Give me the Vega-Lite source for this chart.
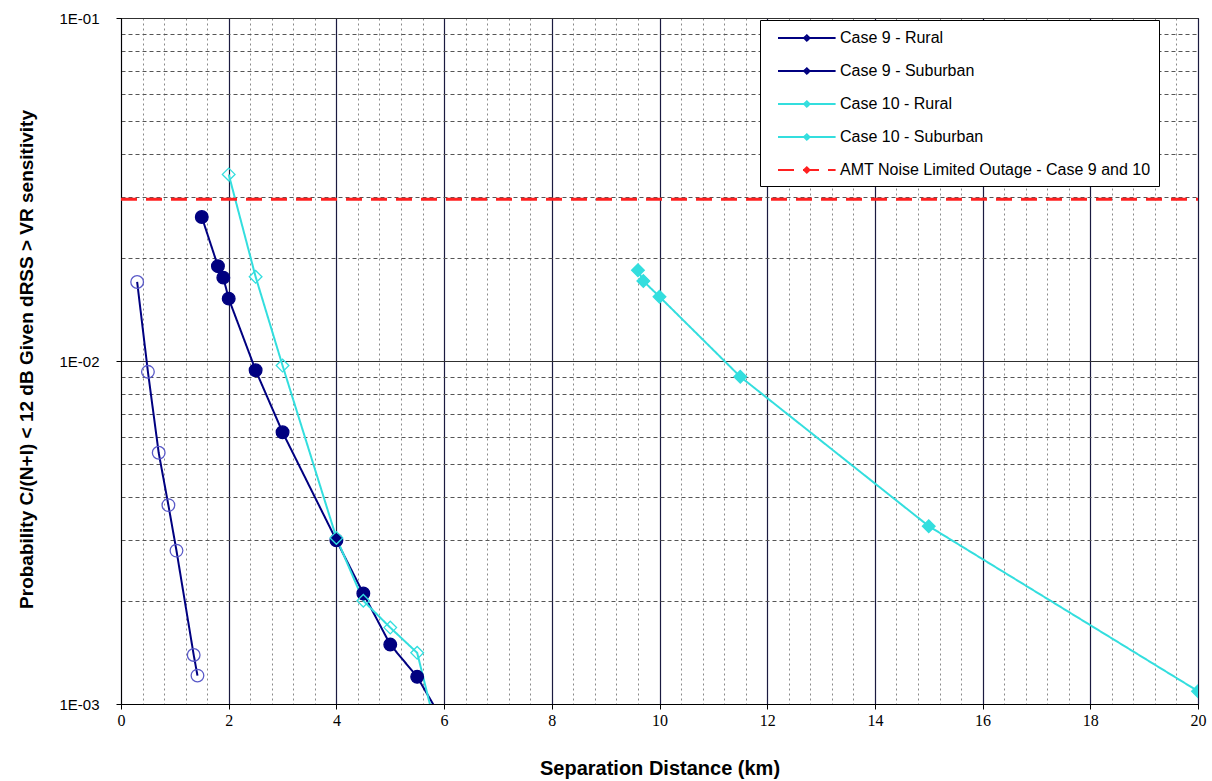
{
  "$schema": "https://vega.github.io/schema/vega-lite/v6.json",
  "width": 1077,
  "height": 686,
  "autosize": {"type": "none"},
  "padding": {"left": 121, "top": 18, "right": 14, "bottom": 77},
  "background": "white",
  "config": {
    "view": {"stroke": "#000000", "strokeWidth": 1},
    "font": "Liberation Sans"
  },
  "data": {
    "values": [
      {"series": "Case 9 - Rural", "x": 1.5, "y": 0.0263},
      {"series": "Case 9 - Rural", "x": 1.8, "y": 0.0189},
      {"series": "Case 9 - Rural", "x": 1.9, "y": 0.0175},
      {"series": "Case 9 - Rural", "x": 2.0, "y": 0.0152},
      {"series": "Case 9 - Rural", "x": 2.5, "y": 0.0094},
      {"series": "Case 9 - Rural", "x": 3.0, "y": 0.0062},
      {"series": "Case 9 - Rural", "x": 4.0, "y": 0.0030},
      {"series": "Case 9 - Rural", "x": 4.5, "y": 0.0021},
      {"series": "Case 9 - Rural", "x": 5.0, "y": 0.00149},
      {"series": "Case 9 - Rural", "x": 5.5, "y": 0.0012},
      {"series": "Case 9 - Rural", "x": 6.0, "y": 0.00088},
      {"series": "Case 9 - Suburban", "x": 0.3, "y": 0.0170},
      {"series": "Case 9 - Suburban", "x": 0.5, "y": 0.0093},
      {"series": "Case 9 - Suburban", "x": 0.7, "y": 0.0054},
      {"series": "Case 9 - Suburban", "x": 0.88, "y": 0.0038},
      {"series": "Case 9 - Suburban", "x": 1.03, "y": 0.0028},
      {"series": "Case 9 - Suburban", "x": 1.35, "y": 0.00139},
      {"series": "Case 9 - Suburban", "x": 1.42, "y": 0.00121},
      {"series": "Case 10 - Rural", "x": 9.6, "y": 0.0184},
      {"series": "Case 10 - Rural", "x": 9.7, "y": 0.0171},
      {"series": "Case 10 - Rural", "x": 10.0, "y": 0.0154},
      {"series": "Case 10 - Rural", "x": 11.5, "y": 0.0090},
      {"series": "Case 10 - Rural", "x": 15.0, "y": 0.0033},
      {"series": "Case 10 - Rural", "x": 20.0, "y": 0.00109},
      {"series": "Case 10 - Suburban", "x": 2.0, "y": 0.035},
      {"series": "Case 10 - Suburban", "x": 2.5, "y": 0.0176},
      {"series": "Case 10 - Suburban", "x": 3.0, "y": 0.0097},
      {"series": "Case 10 - Suburban", "x": 4.0, "y": 0.00305},
      {"series": "Case 10 - Suburban", "x": 4.5, "y": 0.0020},
      {"series": "Case 10 - Suburban", "x": 5.0, "y": 0.00167},
      {"series": "Case 10 - Suburban", "x": 5.5, "y": 0.00141},
      {"series": "Case 10 - Suburban", "x": 6.0, "y": 0.00068},
      {"series": "AMT Noise Limited Outage - Case 9 and 10", "x": 0, "y": 0.0296},
      {"series": "AMT Noise Limited Outage - Case 9 and 10", "x": 20, "y": 0.0296}
    ]
  },
  "encoding": {
    "x": {
      "field": "x", "type": "quantitative",
      "scale": {"domain": [0, 20], "nice": false, "zero": false},
      "axis": {
        "title": "Separation Distance (km)",
        "values": [0,0.4,0.8,1.2,1.6,2,2.4,2.8,3.2,3.6,4,4.4,4.8,5.2,5.6,6,6.4,6.8,7.2,7.6,8,8.4,8.8,9.2,9.6,10,10.4,10.8,11.2,11.6,12,12.4,12.8,13.2,13.6,14,14.4,14.8,15.2,15.6,16,16.4,16.8,17.2,17.6,18,18.4,18.8,19.2,19.6,20],
        "labelExpr": "abs(datum.value/2 - round(datum.value/2)) < 0.01 ? format(datum.value, 'd') : ''",
        "labelFont": "Liberation Sans Narrow",
        "labelFontSize": 16,
        "labelColor": "#000000",
        "labelPadding": 3,
        "labelFlush": false,
        "labelOverlap": false,
        "domainColor": "#000000",
        "tickColor": "#000000",
        "tickSize": {"condition": {"test": "abs(datum.value/2 - round(datum.value/2)) < 0.01", "value": 5}, "value": 0},
        "grid": true,
        "gridColor": {"condition": {"test": "abs(datum.value/2 - round(datum.value/2)) < 0.01", "value": "#1a1a40"}, "value": "#8a8a8a"},
        "gridDash": {"condition": {"test": "abs(datum.value/2 - round(datum.value/2)) < 0.01", "value": []}, "value": [2, 3]},
        "gridWidth": {"condition": {"test": "abs(datum.value/2 - round(datum.value/2)) < 0.01", "value": 1.2}, "value": 1},
        "titleFont": "Liberation Sans",
        "titleFontSize": 20,
        "titleFontWeight": "bold",
        "titleColor": "#000000",
        "titleY": 64,
        "titleBaseline": "middle"
      }
    },
    "y": {
      "field": "y", "type": "quantitative",
      "scale": {"type": "log", "domain": [0.001, 0.1], "nice": false},
      "axis": {
        "title": "Probability C/(N+I) < 12 dB Given dRSS > VR sensitivity",
        "values": [0.001,0.002,0.003,0.004,0.005,0.006,0.007,0.008,0.009,0.01,0.02,0.03,0.04,0.05,0.06,0.07,0.08,0.09,0.1],
        "labelExpr": "datum.value == 0.1 ? '1E-01' : datum.value == 0.01 ? '1E-02' : datum.value == 0.001 ? '1E-03' : ''",
        "labelFont": "Liberation Sans",
        "labelFontSize": 15,
        "labelColor": "#000000",
        "labelPadding": 17,
        "labelFlush": false,
        "labelOverlap": false,
        "domainColor": "#000000",
        "tickColor": "#000000",
        "tickSize": {"condition": {"test": "datum.value == 0.1 || datum.value == 0.01 || datum.value == 0.001", "value": 5}, "value": 0},
        "grid": true,
        "gridColor": {"condition": {"test": "datum.value == 0.1 || datum.value == 0.01 || datum.value == 0.001", "value": "#303030"}, "value": "#555555"},
        "gridDash": {"condition": {"test": "datum.value == 0.1 || datum.value == 0.01 || datum.value == 0.001", "value": []}, "value": [4, 3]},
        "gridWidth": {"condition": {"test": "datum.value == 0.1 || datum.value == 0.01 || datum.value == 0.001", "value": 1.2}, "value": 1},
        "titleFont": "Liberation Sans",
        "titleFontSize": 19,
        "titleFontWeight": "bold",
        "titleColor": "#000000",
        "titleX": -95,
        "titleY": 341,
        "titleAlign": "center",
        "titleBaseline": "middle",
        "titleAngle": -90
      }
    }
  },
  "layer": [
    {
      "transform": [{"filter": "datum.series != 'AMT Noise Limited Outage - Case 9 and 10'"}],
      "mark": {"type": "line", "strokeWidth": 2, "clip": true},
      "encoding": {
        "color": {
          "field": "series", "type": "nominal",
          "scale": {
            "domain": ["Case 9 - Rural", "Case 9 - Suburban", "Case 10 - Rural", "Case 10 - Suburban", "AMT Noise Limited Outage - Case 9 and 10"],
            "range": ["#000080", "#000080", "#33dede", "#33dede", "#ff2020"]
          },
          "legend": {
            "title": null,
            "orient": "none",
            "legendX": 639,
            "legendY": 2,
            "fillColor": "#ffffff",
            "strokeColor": "#000000",
            "padding": 8,
            "symbolType": "M0,0H6.4M2.9,0L3.2,-0.3L3.5,0L3.2,0.3Z",
            "symbolSize": 324,
            "symbolStrokeWidth": 2,
            "labelOffset": 52,
            "labelFont": "Liberation Sans",
            "labelFontSize": 16,
            "labelColor": "#000000",
            "labelLimit": 460,
            "labelExpr": "datum.label + '\u00a0\u00a0\u00a0\u00a0\u00a0\u00a0\u00a0\u00a0'",
            "rowPadding": 15
          }
        },
        "strokeDash": {
          "field": "series", "type": "nominal",
          "scale": {
            "domain": ["Case 9 - Rural", "Case 9 - Suburban", "Case 10 - Rural", "Case 10 - Suburban", "AMT Noise Limited Outage - Case 9 and 10"],
            "range": [[1, 0], [1, 0], [1, 0], [1, 0], [16, 9]]
          },
          "legend": {
            "title": null,
            "orient": "none",
            "legendX": 639,
            "legendY": 2,
            "fillColor": "#ffffff",
            "strokeColor": "#000000",
            "padding": 8,
            "symbolType": "M0,0H6.4M2.9,0L3.2,-0.3L3.5,0L3.2,0.3Z",
            "symbolSize": 324,
            "symbolStrokeWidth": 2,
            "labelOffset": 52,
            "labelFont": "Liberation Sans",
            "labelFontSize": 16,
            "labelColor": "#000000",
            "labelLimit": 460,
            "labelExpr": "datum.label + '\u00a0\u00a0\u00a0\u00a0\u00a0\u00a0\u00a0\u00a0'",
            "rowPadding": 15
          }
        }
      }
    },
    {
      "transform": [{"filter": "datum.series == 'AMT Noise Limited Outage - Case 9 and 10'"}],
      "mark": {"type": "line", "strokeWidth": 3, "clip": true},
      "encoding": {
        "color": {"field": "series", "type": "nominal"},
        "strokeDash": {"field": "series", "type": "nominal"}
      }
    },
    {
      "transform": [{"filter": "datum.series != 'AMT Noise Limited Outage - Case 9 and 10'"}],
      "mark": {"type": "point", "clip": true, "strokeWidth": 1.3, "opacity": 1},
      "encoding": {
        "shape": {
          "field": "series", "type": "nominal",
          "scale": {
            "domain": ["Case 9 - Rural", "Case 9 - Suburban", "Case 10 - Rural", "Case 10 - Suburban"],
            "range": ["circle", "circle", "diamond", "diamond"]
          },
          "legend": null
        },
        "fill": {
          "field": "series", "type": "nominal",
          "scale": {
            "domain": ["Case 9 - Rural", "Case 9 - Suburban", "Case 10 - Rural", "Case 10 - Suburban"],
            "range": ["#000080", "transparent", "#33dede", "transparent"]
          },
          "legend": null
        },
        "stroke": {
          "field": "series", "type": "nominal",
          "scale": {
            "domain": ["Case 9 - Rural", "Case 9 - Suburban", "Case 10 - Rural", "Case 10 - Suburban"],
            "range": ["#000080", "#5a5ac8", "#33dede", "#33dede"]
          },
          "legend": null
        },
        "size": {"value": 160}
      }
    }
  ]
}
